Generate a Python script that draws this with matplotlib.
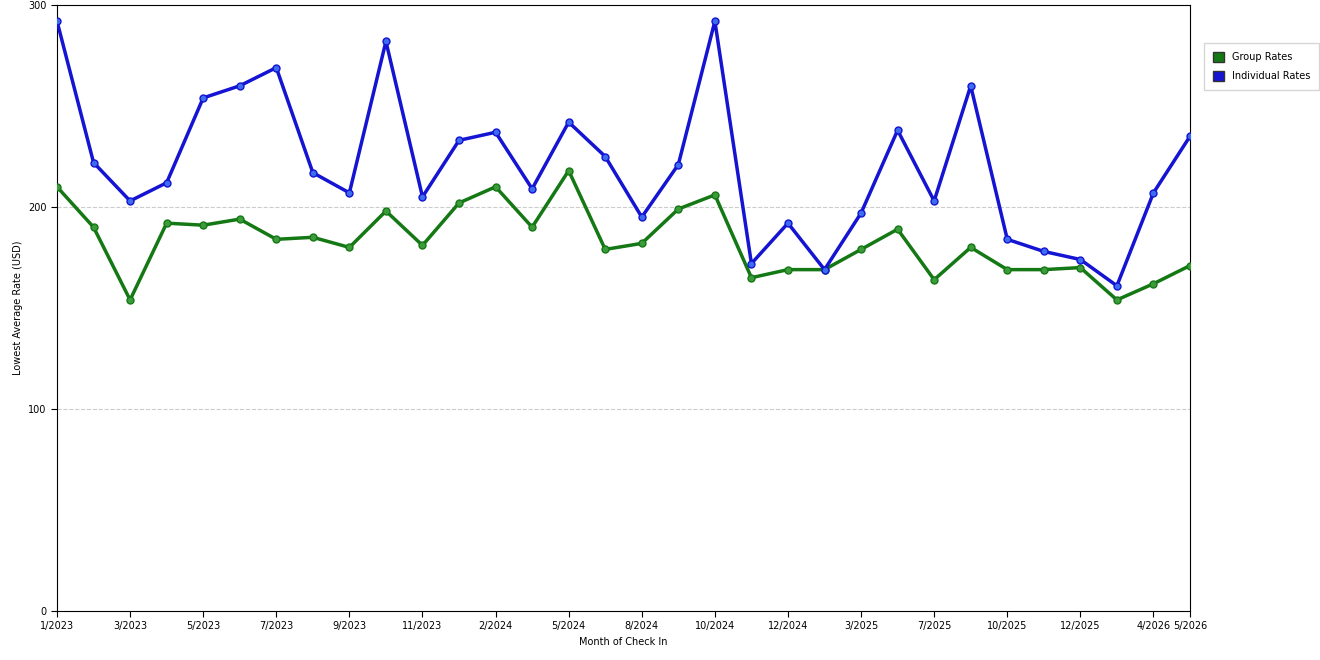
import matplotlib
matplotlib.use("Agg")
import matplotlib.pyplot as plt
from matplotlib.patches import Patch

individual = [292, 222, 203, 212, 254, 260, 269, 217, 207, 282, 205, 233, 237, 209, 242, 225,
              195, 221, 292, 172, 192, 169, 197, 238, 203, 260, 184, 178, 174, 161, 207, 235]
group = [210, 190, 154, 192, 191, 194, 184, 185, 180, 198, 181, 202, 210, 190, 218, 179,
         182, 199, 206, 165, 169, 169, 179, 189, 164, 180, 169, 169, 170, 154, 162, 171]
tick_pos = [0, 2, 4, 6, 8, 10, 12, 14, 16, 18, 20, 22, 24, 26, 28, 30, 31]
tick_labels = ["1/2023", "3/2023", "5/2023", "7/2023", "9/2023", "11/2023", "2/2024", "5/2024",
               "8/2024", "10/2024", "12/2024", "3/2025", "7/2025", "10/2025", "12/2025", "4/2026", "5/2026"]

fig = plt.figure(figsize=(13.2, 6.6), dpi=100)
ax = fig.add_axes([57/1320, 1-611/660, (1190-57)/1320, (611-5)/660])
x = list(range(len(group)))
ax.plot(x, group, color="#147814", lw=2.5, marker="o", ms=5, mfc="#3c9c3c", mec="#147814", zorder=3)
ax.plot(x, individual, color="#1414d2", lw=2.5, marker="o", ms=5, mfc="#3c6cf0", mec="#1414d2", zorder=3)
ax.set_xlim(0, 31)
ax.set_ylim(0, 300)
ax.set_yticks([0, 100, 200, 300])
ax.set_xticks(tick_pos)
ax.set_xticklabels(tick_labels)
ax.tick_params(labelsize=7, length=4)
for y in [100, 200]:
    ax.axhline(y, color="#cccccc", ls="--", lw=0.8, zorder=1)
ax.set_xlabel("Month of Check In", fontsize=7)
ax.set_ylabel("Lowest Average Rate (USD)", fontsize=7)
handles = [Patch(facecolor="#147814", edgecolor="#333333"), Patch(facecolor="#1414d2", edgecolor="#333333")]
fig.legend(handles, ["Group Rates", "Individual Rates"], loc="upper left",
           bbox_to_anchor=(1199/1320, 1-38/660), fontsize=7, frameon=True,
           fancybox=False, edgecolor="#cccccc", handlelength=1.2, handleheight=1.2,
           labelspacing=0.9, borderpad=0.9)
fig.savefig("out.png", dpi=100)
